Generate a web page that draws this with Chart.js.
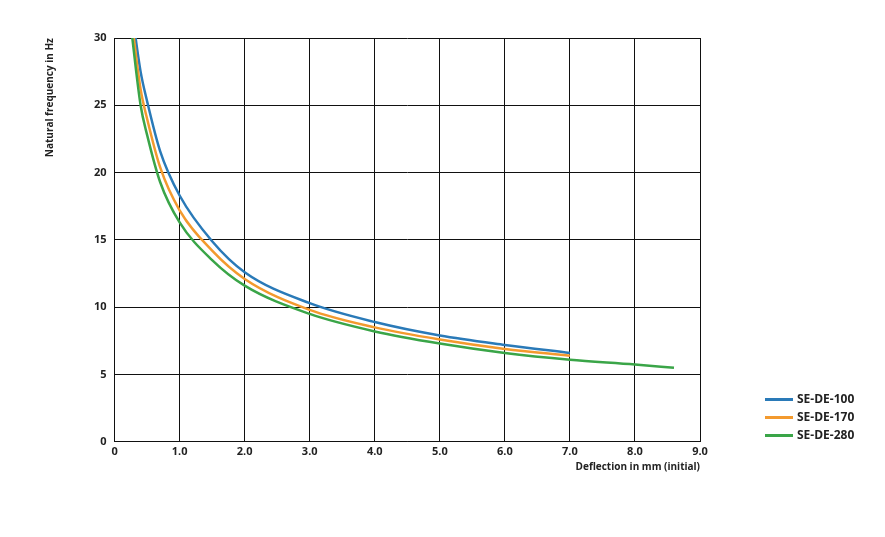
<!DOCTYPE html>
<html><head><meta charset="utf-8">
<script src="https://cdn.jsdelivr.net/npm/chart.js@4"></script>
<style>
body{margin:0;background:#fff;font-family:"Open Sans",sans-serif}
#wrap{position:relative;width:885px;height:537px}
#legend{position:absolute;left:765px;top:390px;font:bold 12px "Open Sans",sans-serif;color:#222}
#legend div{height:18px;line-height:18px;display:flex;align-items:center}
#legend span{display:inline-block;width:28px;height:3px;margin-right:4px}
</style></head>
<body>
<div id="wrap"><canvas id="c" width="885" height="537"></canvas>
<div id="legend"></div></div>
<script>
const seriesNames = ['SE-DE-100', 'SE-DE-170', 'SE-DE-280'];
const seriesColors = ['#2a7ab8', '#f39a2e', '#3aa548'];
const xBlue = [0.28, 0.4, 0.5, 0.7, 1.0, 1.5, 2.0, 3.0, 4.0, 5.0, 6.0, 7.0];
const yBlue = [31.5, 27.5, 25.3, 21.6, 18.3, 14.9, 12.6, 10.3, 8.9, 7.9, 7.2, 6.6];
const xOrange = [0.27, 0.4, 0.5, 0.7, 1.0, 1.5, 2.0, 3.0, 4.0, 5.0, 6.0, 7.0];
const yOrange = [31.0, 26.2, 24.0, 20.4, 17.2, 14.2, 12.1, 9.8, 8.5, 7.6, 6.9, 6.4];
const xGreen = [0.26, 0.4, 0.5, 0.7, 1.0, 1.5, 2.0, 3.0, 4.0, 5.0, 6.0, 7.0, 8.0, 8.6];
const yGreen = [30.5, 25.0, 22.8, 19.3, 16.3, 13.5, 11.6, 9.5, 8.2, 7.3, 6.6, 6.1, 5.75, 5.5];

const pts = (xs, ys) => xs.map((x, i) => ({x, y: ys[i]}));
const sets = [pts(xBlue, yBlue), pts(xOrange, yOrange), pts(xGreen, yGreen)];

document.getElementById('legend').innerHTML = seriesNames.map((n, i) =>
  `<div><span style="background:${seriesColors[i]}"></span>${n}</div>`).join('');

const tickFont = {family: '"Open Sans", sans-serif', size: 11, weight: 'bold'};
new Chart(document.getElementById('c'), {
  type: 'line',
  data: {
    datasets: sets.map((d, i) => ({
      label: seriesNames[i], data: d, borderColor: seriesColors[i],
      borderWidth: 2.5, pointRadius: 0, tension: 0.4, cubicInterpolationMode: 'monotone', fill: false
    })).reverse()
  },
  options: {
    responsive: false, animation: false,
    layout: {padding: {top: 38, right: 185, left: 40, bottom: 60}},
    plugins: {legend: {display: false}, tooltip: {enabled: false}},
    scales: {
      x: {
        type: 'linear', min: 0, max: 9,
        ticks: {stepSize: 1, color: '#222', font: tickFont, callback: v => v === 0 ? '0' : v.toFixed(1)},
        grid: {color: '#111', lineWidth: 1, drawTicks: false}, border: {color: '#111'},
        title: {display: true, text: 'Deflection in mm (initial)', align: 'end', color: '#222',
          font: {family: '"Open Sans", sans-serif', size: 10, weight: 'bold'}, padding: {top: 0}}
      },
      y: {
        min: 0, max: 30,
        ticks: {stepSize: 5, color: '#222', font: tickFont, padding: 8},
        grid: {color: '#111', lineWidth: 1, drawTicks: false}, border: {color: '#111'},
        title: {display: true, text: 'Natural frequency in Hz', align: 'end', color: '#222',
          font: {family: '"Open Sans", sans-serif', size: 10, weight: 'bold'}, padding: {bottom: 30}}
      }
    }
  }
});
</script>
</body></html>
